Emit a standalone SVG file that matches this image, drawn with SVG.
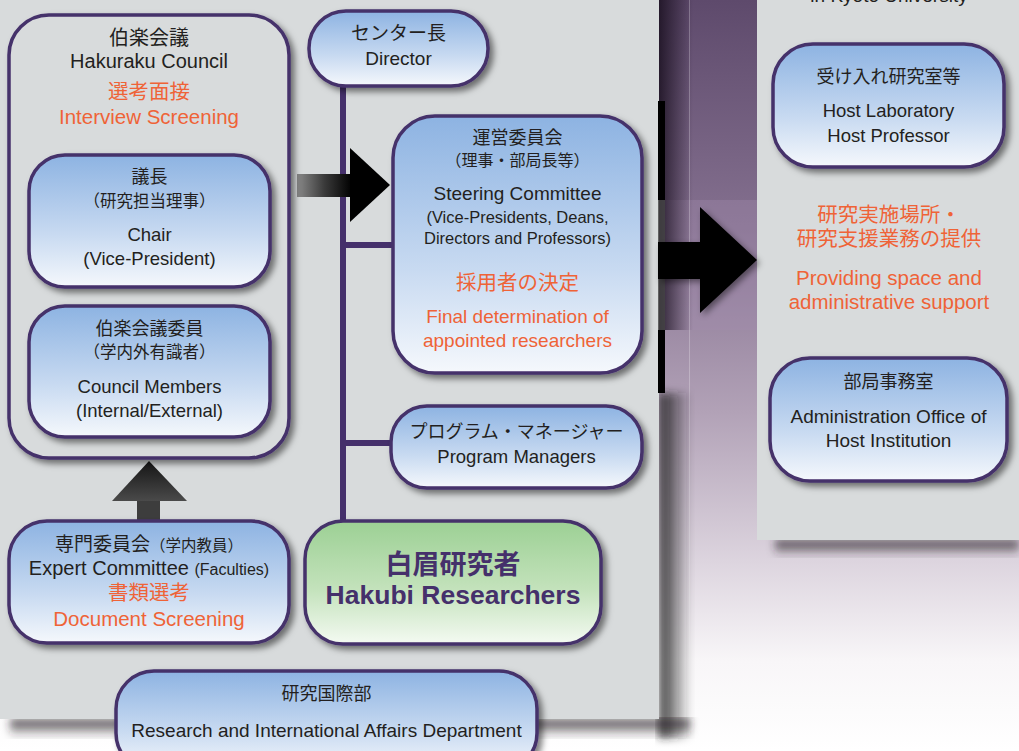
<svg xmlns="http://www.w3.org/2000/svg" width="1019" height="751" viewBox="0 0 1019 751">
<defs>
<linearGradient id="bgPurple" x1="0" y1="0" x2="0" y2="1">
<stop offset="0" stop-color="#5e4a6c"/>
<stop offset="0.3" stop-color="#84708f"/>
<stop offset="0.55" stop-color="#b2a2b7"/>
<stop offset="0.75" stop-color="#ddd5df"/>
<stop offset="0.88" stop-color="#f8f6f8"/>
<stop offset="1" stop-color="#ffffff"/>
</linearGradient>
<linearGradient id="darkEdge" x1="0" y1="0" x2="1" y2="0">
<stop offset="0" stop-color="#1a1020" stop-opacity="0.85"/>
<stop offset="1" stop-color="#1a1020" stop-opacity="0"/>
</linearGradient>
<linearGradient id="shadowR" x1="0" y1="0" x2="1" y2="0">
<stop offset="0" stop-color="#222" stop-opacity="0.9"/>
<stop offset="1" stop-color="#222" stop-opacity="0"/>
</linearGradient>
<linearGradient id="shadowB" x1="0" y1="0" x2="0" y2="1">
<stop offset="0" stop-color="#2a2328" stop-opacity="0.9"/>
<stop offset="1" stop-color="#2a2328" stop-opacity="0"/>
</linearGradient>
<linearGradient id="blue" x1="0" y1="0" x2="0" y2="1">
<stop offset="0" stop-color="#8db3e2"/>
<stop offset="0.6" stop-color="#c8daf1"/>
<stop offset="1" stop-color="#f5f8fc"/>
</linearGradient>
<linearGradient id="green" x1="0" y1="0" x2="0" y2="1">
<stop offset="0" stop-color="#9cd094"/>
<stop offset="0.55" stop-color="#c3e2bb"/>
<stop offset="1" stop-color="#f4faf2"/>
</linearGradient>
<linearGradient id="shaftGrad" x1="0" y1="0" x2="1" y2="0">
<stop offset="0" stop-color="#8a8a8a"/>
<stop offset="0.5" stop-color="#3a3a3a"/>
<stop offset="0.85" stop-color="#111"/>
<stop offset="1" stop-color="#000"/>
</linearGradient>
<linearGradient id="upGrad" x1="0" y1="0" x2="0" y2="1">
<stop offset="0" stop-color="#151515"/>
<stop offset="1" stop-color="#4a4a4a"/>
</linearGradient>
<filter id="sh" x="-10%" y="-10%" width="125%" height="130%">
<feDropShadow dx="4" dy="4" stdDeviation="3" flood-color="#000" flood-opacity="0.5"/>
</filter>
<filter id="shA" x="-10%" y="-10%" width="130%" height="130%">
<feDropShadow dx="3" dy="3" stdDeviation="3" flood-color="#000" flood-opacity="0.45"/>
</filter>
<filter id="blur4"><feGaussianBlur stdDeviation="4"/></filter>
</defs>
<style>
text{font-family:"Liberation Sans","Noto Sans CJK JP",sans-serif;fill:#231f20;text-anchor:middle;font-size:18.5px}
.o{fill:#ef6337;font-size:20.5px}
.s{font-size:16.5px}
.j{font-size:18px}
.box{stroke:#45306b;stroke-width:3.5;fill:url(#blue);filter:url(#sh)}
.hk{fill:#45306b;font-weight:bold}
.con{stroke:#45306b;stroke-width:6;fill:none}
</style>

<!-- background -->
<rect x="0" y="0" width="1019" height="751" fill="url(#bgPurple)"/>
<rect x="659" y="200" width="98" height="130" fill="#a48bae" opacity="0.35"/>
<rect x="659" y="0" width="34" height="330" fill="url(#darkEdge)"/>
<line x1="689.5" y1="0" x2="689.5" y2="751" stroke="#ffffff" stroke-opacity="0.25"/>
<!-- left panel shadows -->
<rect x="659" y="393" width="32" height="345" fill="url(#shadowR)" filter="url(#blur4)"/>
<rect x="10" y="719" width="680" height="18" fill="url(#shadowB)" filter="url(#blur4)"/>
<!-- left panel -->
<rect x="0" y="0" width="659" height="719" fill="#d8dbdc"/>
<rect x="658" y="101" width="7" height="99" fill="#000"/>
<rect x="658" y="200" width="7" height="130" fill="#444" opacity="0.8"/>
<rect x="658" y="330" width="7" height="63" fill="#000"/>
<!-- right panel -->
<rect x="775" y="540" width="244" height="16" fill="url(#shadowB)" filter="url(#blur4)"/>
<rect x="757" y="0" width="262" height="540" fill="#d8dbdc"/>
<text x="889" y="2" style="font-size:19px">in Kyoto University</text>

<!-- connectors -->
<g id="connectors">
<path class="con" d="M343,86 V521 M343,245 H393 M343,443 H391"/>
<g id="arrow-council-steering">
<rect x="297" y="174" width="55" height="23" fill="url(#shaftGrad)"/>
<polygon points="350,148 390,185 350,222" fill="#000"/>
</g>
<g id="arrow-expert-council">
<rect x="137" y="499" width="23" height="22" fill="#3d3d3d"/>
<polygon points="149,461 187,501 112,501" fill="url(#upGrad)"/>
</g>
<g id="arrow-big" filter="url(#shA)">
<polygon points="658,242 700,242 700,207 757,260 700,313 700,279 658,279" fill="#000"/>
</g>
</g>

<!-- nodes -->
<g id="hakuraku-council">
<rect x="9" y="15" width="280" height="443" rx="40" fill="#d8dbdc" stroke="#45306b" stroke-width="3.5" filter="url(#sh)"/>
<text x="149" y="45" style="font-size:20px">伯楽会議</text>
<text x="149" y="68" style="font-size:20px">Hakuraku Council</text>
<text class="o" x="149" y="99">選考面接</text>
<text class="o" x="149" y="124">Interview Screening</text>
</g>
<g id="chair">
<rect class="box" x="29" y="155" width="241" height="132" rx="36"/>
<text class="j" x="149.5" y="183">議長</text>
<text x="149.5" y="207" style="font-size:16.5px">（研究担当理事）</text>
<text x="149.5" y="241">Chair</text>
<text x="149.5" y="265">(Vice-President)</text>
</g>
<g id="council-members">
<rect class="box" x="29" y="306" width="241" height="131" rx="36"/>
<text class="j" x="149.5" y="335">伯楽会議委員</text>
<text x="149.5" y="358" style="font-size:16.5px">（学内外有識者）</text>
<text x="149.5" y="393">Council Members</text>
<text x="149.5" y="417">(Internal/External)</text>
</g>
<g id="expert-committee">
<rect class="box" x="9" y="521" width="280" height="122" rx="38"/>
<text x="149" y="551" style="font-size:19px">専門委員会<tspan style="font-size:15.5px">（学内教員）</tspan></text>
<text x="149" y="575" style="font-size:20px">Expert Committee <tspan style="font-size:16px">(Faculties)</tspan></text>
<text class="o" x="149" y="600">書類選考</text>
<text class="o" x="149" y="626">Document Screening</text>
</g>
<g id="director">
<rect class="box" x="309" y="11" width="179" height="75" rx="37"/>
<text x="398.5" y="40" style="font-size:19px">センター長</text>
<text x="398.5" y="65" style="font-size:19px">Director</text>
</g>
<g id="steering-committee">
<rect class="box" x="393" y="116" width="249" height="257" rx="42"/>
<text class="j" x="517.5" y="144">運営委員会</text>
<text x="517.5" y="166" style="font-size:16px">（理事・部局長等）</text>
<text x="517.5" y="200" style="font-size:19px">Steering Committee</text>
<text class="s" x="517.5" y="223">(Vice-Presidents, Deans,</text>
<text class="s" x="517.5" y="244">Directors and Professors)</text>
<text class="o" x="517.5" y="290">採用者の決定</text>
<text class="o" x="517.5" y="323" style="font-size:19px">Final determination of</text>
<text class="o" x="517.5" y="347" style="font-size:19px">appointed researchers</text>
</g>
<g id="program-managers">
<rect class="box" x="391" y="406" width="251" height="82" rx="36"/>
<text class="j" x="516.5" y="438">プログラム・マネージャー</text>
<text x="516.5" y="463">Program Managers</text>
</g>
<g id="hakubi-researchers">
<rect x="305" y="521" width="296" height="123" rx="38" fill="url(#green)" stroke="#45306b" stroke-width="3.5" filter="url(#sh)"/>
<text class="hk" x="453" y="574" style="font-size:27px">白眉研究者</text>
<text class="hk" x="453" y="604" style="font-size:26.5px">Hakubi Researchers</text>
</g>
<g id="research-dept">
<rect class="box" x="116" y="671" width="421" height="100" rx="38"/>
<text class="j" x="326.5" y="700">研究国際部</text>
<text x="326.5" y="737" style="font-size:19px">Research and International Affairs Department</text>
</g>
<g id="host-laboratory">
<rect class="box" x="773" y="44" width="231" height="123" rx="40"/>
<text class="j" x="888.5" y="83">受け入れ研究室等</text>
<text x="888.5" y="117">Host Laboratory</text>
<text x="888.5" y="142">Host Professor</text>
</g>
<g id="support-label">
<text class="o" x="889" y="222">研究実施場所・</text>
<text class="o" x="889" y="246">研究支援業務の提供</text>
<text class="o" x="889" y="285">Providing space and</text>
<text class="o" x="889" y="309">administrative support</text>
</g>
<g id="admin-office">
<rect class="box" x="770" y="358" width="237" height="123" rx="40"/>
<text class="j" x="888.5" y="388">部局事務室</text>
<text x="888.5" y="423" style="font-size:19px">Administration Office of</text>
<text x="888.5" y="447" style="font-size:19px">Host Institution</text>
</g>
</svg>
